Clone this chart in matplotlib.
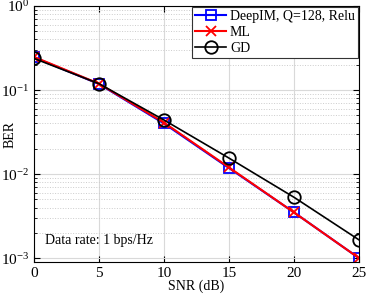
import numpy as np
import matplotlib
matplotlib.use('Agg')
import matplotlib.pyplot as plt
from matplotlib.ticker import LogLocator, NullFormatter

plt.rcParams['font.family'] = ['Liberation Serif', 'DejaVu Serif']
plt.rcParams['mathtext.fontset'] = 'stix'

# Data
snr = [0, 5, 10, 15, 20, 25]
ber_deepim = [0.245, 0.118, 0.040, 0.0118, 0.0035, 0.00100]
ber_ml = [0.248, 0.119, 0.041, 0.0120, 0.0035, 0.00100]
ber_gd = [0.238, 0.119, 0.044, 0.0155, 0.0053, 0.00165]
labels = ['DeepIM, Q=128, Relu', 'ML', 'GD']

fig = plt.figure(figsize=(3.66, 2.96), dpi=100)
ax = fig.add_axes([34 / 366, 1 - 262 / 296, (359 - 34) / 366, (262 - 6) / 296])

ax.semilogy(snr, ber_deepim, color='blue', marker='s', markersize=7,
            markerfacecolor='none', markeredgewidth=1.3, linewidth=1.5, label=labels[0])
ax.semilogy(snr, ber_ml, color='red', marker='x', markersize=7,
            markeredgewidth=1.3, linewidth=1.5, label=labels[1])
ax.semilogy(snr, ber_gd, color='black', marker='o', markersize=9,
            markerfacecolor='none', markeredgewidth=1.3, linewidth=1.2, label=labels[2])

ax.set_xlim(0, 25)
ax.set_ylim(0.9e-3, 1)
ax.set_xticks([0, 5, 10, 15, 20, 25])
ax.yaxis.set_major_locator(LogLocator(base=10, numticks=10))
ax.yaxis.set_minor_locator(LogLocator(base=10, subs=np.arange(2, 10), numticks=20))
ax.yaxis.set_minor_formatter(NullFormatter())

ax.grid(True, which='major', color='#d9d9d9', linewidth=0.8)
ax.grid(True, which='minor', axis='y', color='#cccccc', linestyle=':', linewidth=0.7)
ax.set_axisbelow(True)

ax.tick_params(which='both', direction='in', top=True, right=True, labelsize=11)
ax.tick_params(which='major', length=4)
ax.tick_params(which='minor', length=2)

ax.set_xlabel('SNR (dB)', fontsize=10, labelpad=0)
ax.set_ylabel('BER', fontsize=10)
ax.yaxis.set_label_coords(-0.055, 0.5)

ax.text(0.035, 0.07, 'Data rate: 1 bps/Hz', transform=ax.transAxes, fontsize=10)

leg = ax.legend(loc='upper right', fontsize=10, fancybox=False, framealpha=1,
                edgecolor='#333333', borderpad=0.25, labelspacing=0.2,
                handlelength=2.2, handletextpad=0.3, borderaxespad=0.05)
leg.get_frame().set_linewidth(0.8)

fig.savefig('out.png', dpi=100)
